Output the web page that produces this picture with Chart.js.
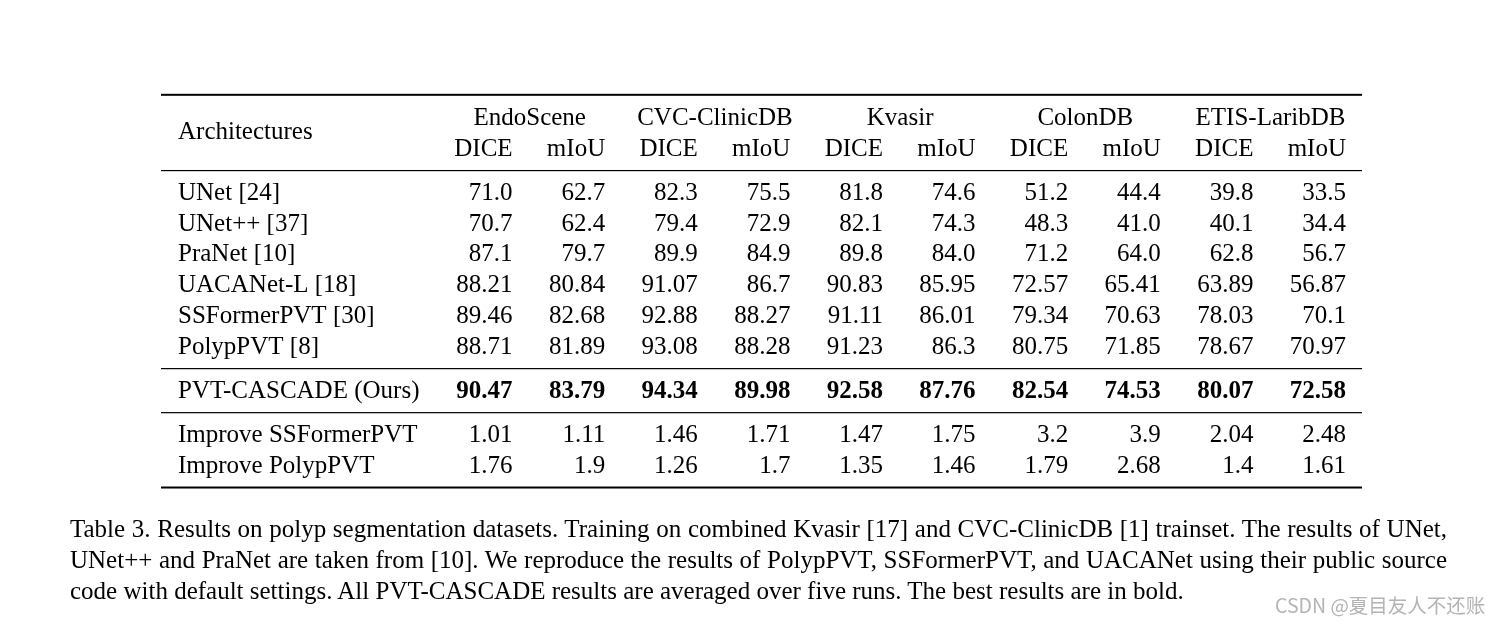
<!DOCTYPE html>
<html>
<head>
<meta charset="utf-8">
<script src="https://cdn.jsdelivr.net/npm/chart.js@4"></script>
<style>
  body { margin: 0; background: #fff; }
  #wrap { position: relative; width: 1501px; height: 625px; }
  #caption { position: absolute; left: 70px; top: 513px; width: 1377px;
    font: 25px "Liberation Serif", serif; line-height: 31px; color: #000; }
  #caption div { text-align: justify; text-align-last: justify; white-space: nowrap; }
  #caption div.last { text-align: left; text-align-last: left; }
  #mark { position: absolute; left: 1275px; top: 594px;
    font: 19.5px "Noto Sans CJK SC", "Noto Sans", sans-serif; color: #b4b4b4; line-height: 22px; }
</style>
</head>
<body>
<div id="wrap">
  <canvas id="myChart"></canvas>
  <div id="caption">
    <div>Table 3. Results on polyp segmentation datasets. Training on combined Kvasir [17] and CVC-ClinicDB [1] trainset. The results of UNet,</div>
    <div>UNet++ and PraNet are taken from [10]. We reproduce the results of PolypPVT, SSFormerPVT, and UACANet using their public source</div>
    <div class="last">code with default settings. All PVT-CASCADE results are averaged over five runs. The best results are in bold.</div>
  </div>
  <div id="mark">CSDN @夏目友人不还账</div>
</div>
<script>
const benchmarks = ["EndoScene", "CVC-ClinicDB", "Kvasir", "ColonDB", "ETIS-LaribDB"];
const metrics = ["DICE", "mIoU"];
const xLabels = benchmarks.flatMap(b => metrics);

const baselineNames = ["UNet [24]", "UNet++ [37]", "PraNet [10]", "UACANet-L [18]", "SSFormerPVT [30]", "PolypPVT [8]"];
const unet      = ["71.0", "62.7", "82.3", "75.5", "81.8", "74.6", "51.2", "44.4", "39.8", "33.5"];
const unetpp    = ["70.7", "62.4", "79.4", "72.9", "82.1", "74.3", "48.3", "41.0", "40.1", "34.4"];
const pranet    = ["87.1", "79.7", "89.9", "84.9", "89.8", "84.0", "71.2", "64.0", "62.8", "56.7"];
const uacanet   = ["88.21", "80.84", "91.07", "86.7", "90.83", "85.95", "72.57", "65.41", "63.89", "56.87"];
const ssformer  = ["89.46", "82.68", "92.88", "88.27", "91.11", "86.01", "79.34", "70.63", "78.03", "70.1"];
const polyppvt  = ["88.71", "81.89", "93.08", "88.28", "91.23", "86.3", "80.75", "71.85", "78.67", "70.97"];

const oursName = "PVT-CASCADE (Ours)";
const ours      = ["90.47", "83.79", "94.34", "89.98", "92.58", "87.76", "82.54", "74.53", "80.07", "72.58"];

const improveNames = ["Improve SSFormerPVT", "Improve PolypPVT"];
const impSSFormer = ["1.01", "1.11", "1.46", "1.71", "1.47", "1.75", "3.2", "3.9", "2.04", "2.48"];
const impPolyp    = ["1.76", "1.9", "1.26", "1.7", "1.35", "1.46", "1.79", "2.68", "1.4", "1.61"];

// sections of the table, separated by rules
const sections = [
    { names: baselineNames, rows: [unet, unetpp, pranet, uacanet, ssformer, polyppvt], bold: false },
    { names: [oursName], rows: [ours], bold: true },
    { names: improveNames, rows: [impSSFormer, impPolyp], bold: false }
];

// row positions in row units (header line 1 = 0, header line 2 = 1)
const rules = [-0.98, 1.48];
const bodyRows = [];
let pos = 1;
sections.forEach(sec => {
    pos += 0.45;
    sec.rows.forEach((vals, i) => {
        pos += (i === 0 ? 0.98 : 1);
        bodyRows.push({ name: sec.names[i], vals: vals, bold: sec.bold, y: pos });
    });
    rules.push(pos + 0.48);
});

const serif = '"Liberation Serif", "Times New Roman", serif';

const tableText = {
    id: 'tableText',
    afterDatasetsDraw(chart) {
        const ctx = chart.ctx;
        const xs = chart.scales.x, ys = chart.scales.y;
        const half = (xs.getPixelForValue(1) - xs.getPixelForValue(0)) / 2;
        const tableLeft = chart.chartArea.left - 259;
        const tableRight = chart.chartArea.right + 16;
        ctx.save();
        ctx.fillStyle = '#000';
        ctx.textBaseline = 'alphabetic';

        // rules
        rules.forEach((r, i) => {
            const py = ys.getPixelForValue(r);
            const thick = (i === 0 || i === rules.length - 1) ? 2 : 1.2;
            ctx.fillRect(tableLeft, py - thick / 2, tableRight - tableLeft, thick);
        });

        ctx.font = '25px ' + serif;
        // header
        ctx.textAlign = 'left';
        ctx.fillText('Architectures', tableLeft + 17, ys.getPixelForValue(0.46));
        const diceW = ctx.measureText(metrics[0]).width;
        benchmarks.forEach((b, k) => {
            const l = xs.getPixelForValue(2 * k) + half - diceW;
            const r = xs.getPixelForValue(2 * k + 1) + half;
            ctx.textAlign = 'center';
            ctx.fillText(b, (l + r) / 2, ys.getPixelForValue(0));
        });
        ctx.textAlign = 'right';
        xLabels.forEach((m, i) => {
            ctx.fillText(m, xs.getPixelForValue(i) + half, ys.getPixelForValue(1));
        });

        // body cells from dataset points
        chart.data.datasets.forEach((ds, d) => {
            const meta = chart.getDatasetMeta(d);
            const row = bodyRows[d];
            ctx.font = '25px ' + serif;
            ctx.textAlign = 'left';
            ctx.fillText(ds.label, tableLeft + 17, meta.data[0].y);
            ctx.font = (row.bold ? 'bold ' : '') + '25px ' + serif;
            ctx.textAlign = 'right';
            meta.data.forEach((pt, i) => {
                ctx.fillText(row.vals[i], pt.x + half, pt.y);
            });
        });
        ctx.restore();
    }
};

const ctx = document.getElementById('myChart').getContext('2d');
const chart = new Chart(ctx, {
    type: 'scatter',
    data: {
        datasets: bodyRows.map(row => ({
            label: row.name,
            data: row.vals.map((v, i) => ({ x: i, y: row.y })),
            pointRadius: 0,
            pointHoverRadius: 0
        }))
    },
    options: {
        responsive: true,
        maintainAspectRatio: false,
        animation: false,
        events: [],
        layout: { padding: { left: 420, right: 155, top: 0, bottom: 0 } },
        plugins: { legend: { display: false }, tooltip: { enabled: false } },
        scales: {
            x: { type: 'category', labels: xLabels, offset: true, display: false },
            y: { type: 'linear', reverse: true, min: -125 / 30.8, max: 500 / 30.8, display: false }
        }
    },
    plugins: [tableText]
});
</script>
</body>
</html>
